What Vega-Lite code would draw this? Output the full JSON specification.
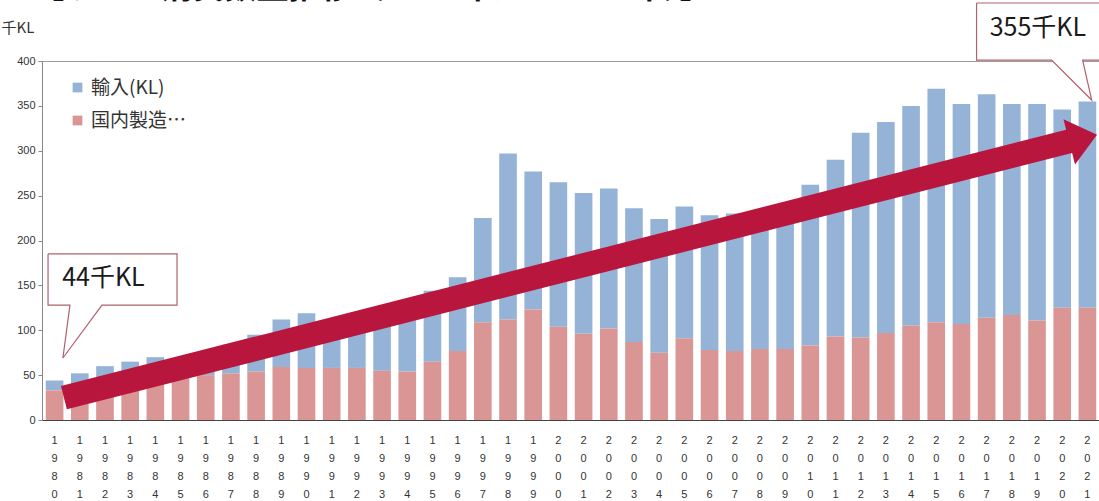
{
  "$schema": "https://vega.github.io/schema/vega-lite/v6.json",
  "width": 1058,
  "height": 359,
  "autosize": {"type": "none"},
  "padding": {"left": 42, "top": 61, "right": 0, "bottom": 81},
  "background": "white",
  "config": {"view": {"stroke": "#9a9a9a", "strokeWidth": 1}, "font": "Noto Sans CJK JP"},
  "resolve": {"scale": {"x": "independent", "y": "independent"}},
  "layer": [
    {
      "data": {"values": [
        {"year": "1980", "domestic": 33, "import": 11},
        {"year": "1981", "domestic": 35, "import": 17},
        {"year": "1982", "domestic": 38, "import": 22},
        {"year": "1983", "domestic": 41, "import": 24},
        {"year": "1984", "domestic": 43, "import": 27},
        {"year": "1985", "domestic": 46, "import": 20},
        {"year": "1986", "domestic": 50, "import": 22},
        {"year": "1987", "domestic": 52, "import": 32},
        {"year": "1988", "domestic": 54, "import": 41},
        {"year": "1989", "domestic": 59, "import": 53},
        {"year": "1990", "domestic": 58, "import": 61},
        {"year": "1991", "domestic": 58, "import": 52},
        {"year": "1992", "domestic": 58, "import": 55},
        {"year": "1993", "domestic": 55, "import": 58},
        {"year": "1994", "domestic": 54, "import": 72},
        {"year": "1995", "domestic": 65, "import": 79},
        {"year": "1996", "domestic": 77, "import": 82},
        {"year": "1997", "domestic": 109, "import": 116},
        {"year": "1998", "domestic": 112, "import": 185},
        {"year": "1999", "domestic": 123, "import": 154},
        {"year": "2000", "domestic": 104, "import": 161},
        {"year": "2001", "domestic": 96, "import": 157},
        {"year": "2002", "domestic": 102, "import": 156},
        {"year": "2003", "domestic": 87, "import": 149},
        {"year": "2004", "domestic": 75, "import": 149},
        {"year": "2005", "domestic": 91, "import": 147},
        {"year": "2006", "domestic": 78, "import": 150},
        {"year": "2007", "domestic": 77, "import": 153},
        {"year": "2008", "domestic": 79, "import": 149},
        {"year": "2009", "domestic": 79, "import": 157},
        {"year": "2010", "domestic": 83, "import": 179},
        {"year": "2011", "domestic": 93, "import": 197},
        {"year": "2012", "domestic": 92, "import": 228},
        {"year": "2013", "domestic": 97, "import": 235},
        {"year": "2014", "domestic": 105, "import": 245},
        {"year": "2015", "domestic": 109, "import": 260},
        {"year": "2016", "domestic": 107, "import": 245},
        {"year": "2017", "domestic": 114, "import": 249},
        {"year": "2018", "domestic": 117, "import": 235},
        {"year": "2019", "domestic": 111, "import": 241},
        {"year": "2020", "domestic": 125, "import": 221},
        {"year": "2021", "domestic": 125, "import": 230}
      ]},
      "transform": [{"fold": ["import", "domestic"], "as": ["series", "kl"]}],
      "mark": {"type": "bar"},
      "encoding": {
        "x": {
          "field": "year", "type": "ordinal",
          "scale": {"paddingInner": 0.3, "paddingOuter": 0.15},
          "axis": {
            "title": null, "labelAngle": 0, "labelExpr": "split(datum.label, '')",
            "labelLineHeight": 18, "labelFontSize": 11, "labelFont": "Liberation Sans",
            "labelColor": "#333", "ticks": false, "domainColor": "#444", "labelPadding": 14
          }
        },
        "y": {
          "field": "kl", "type": "quantitative", "stack": "zero",
          "scale": {"domain": [0, 400], "nice": false},
          "axis": {
            "title": "千KL", "titleAngle": 0, "titleX": -41, "titleY": -34,
            "titleAlign": "left", "titleBaseline": "middle", "titleFontSize": 15,
            "titleFontWeight": "normal", "titleColor": "#333", "titleFont": "Noto Sans CJK JP",
            "values": [0, 50, 100, 150, 200, 250, 300, 350, 400],
            "labelFontSize": 11, "labelFont": "Liberation Sans", "labelColor": "#333",
            "grid": false, "domainColor": "#888", "tickColor": "#888", "tickSize": 4, "labelPadding": 3
          }
        },
        "color": {
          "field": "series", "type": "nominal",
          "scale": {"domain": ["import", "domestic"], "range": ["#95B3D7", "#D99694"]},
          "legend": {
            "title": null, "orient": "none", "legendX": 26, "legendY": 17,
            "symbolType": "square", "symbolSize": 95, "symbolStrokeWidth": 0,
            "labelFontSize": 19, "labelFont": "Noto Sans CJK JP", "labelColor": "#333",
            "rowPadding": 13, "padding": 0,
            "labelExpr": "datum.label == 'import' ? '輸入(KL)' : '国内製造…'"
          }
        },
        "order": {"field": "series", "sort": "ascending"}
      }
    },
    {
      "data": {"values": [{"t": "【ワイン消費数量推移（1980年から2021年）】"}]},
      "mark": {"type": "text", "fontSize": 32, "fontWeight": "bold", "align": "center", "baseline": "alphabetic", "color": "#111"},
      "encoding": {
        "text": {"field": "t"},
        "x": {"datum": 1992.6, "type": "quantitative", "scale": {"domain": [1979.5, 2021.5], "nice": false, "zero": false}, "axis": null},
        "y": {"datum": 470.5, "type": "quantitative", "scale": {"domain": [0, 400], "nice": false}, "axis": null}
      }
    },
    {
      "data": {"values": [{}]},
      "mark": {"type": "rule", "color": "#B8163D", "strokeWidth": 24, "strokeCap": "butt"},
      "encoding": {
        "x": {"datum": 1980.37, "type": "quantitative", "scale": {"domain": [1979.5, 2021.5], "nice": false, "zero": false}, "axis": null},
        "x2": {"datum": 2020.35},
        "y": {"datum": 24.8, "type": "quantitative", "scale": {"domain": [0, 400], "nice": false}, "axis": null},
        "y2": {"datum": 311}
      }
    },
    {
      "data": {"values": [{}]},
      "mark": {"type": "point", "filled": true, "color": "#B8163D", "opacity": 1, "shape": "M -0.61 -1 L 0.61 0 L -0.61 1 Z", "size": 2200, "angle": 345.7},
      "encoding": {
        "x": {"datum": 2020.83, "type": "quantitative", "scale": {"domain": [1979.5, 2021.5], "nice": false, "zero": false}, "axis": null},
        "y": {"datum": 313.8, "type": "quantitative", "scale": {"domain": [0, 400], "nice": false}, "axis": null}
      }
    },
    {
      "data": {"values": [
        {"i": 0, "x": 1979.74, "y": 185},
        {"i": 1, "x": 1984.86, "y": 185},
        {"i": 2, "x": 1984.86, "y": 128.1},
        {"i": 3, "x": 1981.88, "y": 128.1},
        {"i": 4, "x": 1980.33, "y": 69.1},
        {"i": 5, "x": 1980.61, "y": 128.1},
        {"i": 6, "x": 1979.74, "y": 128.1},
        {"i": 7, "x": 1979.74, "y": 185}
      ]},
      "mark": {"type": "line", "fill": "white", "stroke": "#B0606E", "strokeWidth": 1.2, "interpolate": "linear"},
      "encoding": {
        "x": {"field": "x", "type": "quantitative", "scale": {"domain": [1979.5, 2021.5], "nice": false, "zero": false}, "axis": null},
        "y": {"field": "y", "type": "quantitative", "scale": {"domain": [0, 400], "nice": false}, "axis": null},
        "order": {"field": "i"}
      }
    },
    {
      "data": {"values": [{"t": "44千KL"}]},
      "mark": {"type": "text", "fontSize": 25, "align": "left", "baseline": "middle", "color": "#1a1a1a", "font": "Noto Sans CJK JP"},
      "encoding": {
        "text": {"field": "t"},
        "x": {"datum": 1980.3, "type": "quantitative", "scale": {"domain": [1979.5, 2021.5], "nice": false, "zero": false}, "axis": null},
        "y": {"datum": 158, "type": "quantitative", "scale": {"domain": [0, 400], "nice": false}, "axis": null}
      }
    },
    {
      "data": {"values": [
        {"i": 0, "x": 2016.6, "y": 464.6},
        {"i": 1, "x": 2022.4, "y": 464.6},
        {"i": 2, "x": 2022.4, "y": 401},
        {"i": 3, "x": 2020.81, "y": 401},
        {"i": 4, "x": 2021.17, "y": 356.5},
        {"i": 5, "x": 2019.58, "y": 401},
        {"i": 6, "x": 2016.6, "y": 401},
        {"i": 7, "x": 2016.6, "y": 464.6}
      ]},
      "mark": {"type": "line", "fill": "white", "stroke": "#B0606E", "strokeWidth": 1.2, "interpolate": "linear"},
      "encoding": {
        "x": {"field": "x", "type": "quantitative", "scale": {"domain": [1979.5, 2021.5], "nice": false, "zero": false}, "axis": null},
        "y": {"field": "y", "type": "quantitative", "scale": {"domain": [0, 400], "nice": false}, "axis": null},
        "order": {"field": "i"}
      }
    },
    {
      "data": {"values": [{"t": "355千KL"}]},
      "mark": {"type": "text", "fontSize": 25, "align": "left", "baseline": "middle", "color": "#1a1a1a", "font": "Noto Sans CJK JP"},
      "encoding": {
        "text": {"field": "t"},
        "x": {"datum": 2017.12, "type": "quantitative", "scale": {"domain": [1979.5, 2021.5], "nice": false, "zero": false}, "axis": null},
        "y": {"datum": 436.8, "type": "quantitative", "scale": {"domain": [0, 400], "nice": false}, "axis": null}
      }
    }
  ]
}
